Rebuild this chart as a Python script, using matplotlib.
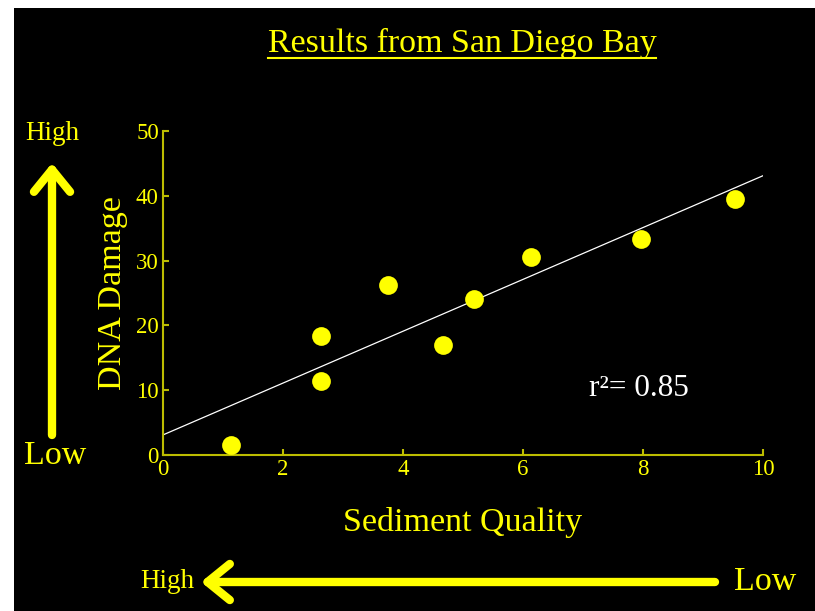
import numpy as np
import matplotlib
matplotlib.use('Agg')
import matplotlib.pyplot as plt
from matplotlib.patches import Rectangle, FancyArrowPatch
from matplotlib.lines import Line2D

plt.rcParams['font.family'] = ['Liberation Serif', 'DejaVu Serif']

# data
sediment = [1.13, 2.64, 2.64, 3.75, 4.66, 5.18, 6.13, 7.96, 9.54]
dna_damage = [1.6, 18.4, 11.4, 26.2, 16.9, 24.1, 30.6, 33.3, 39.5]
fit_intercept = 3.1
fit_slope = 4.0
r_squared = 0.85
x_ticks = [0, 2, 4, 6, 8, 10]
y_ticks = [0, 10, 20, 30, 40, 50]

yellow = '#ffff00'
olive = '#bcbc00'

fig = plt.figure(figsize=(8.15, 6.11), dpi=100, facecolor='white')
# black slide background with thin white margin at left/top
fig.add_artist(Rectangle((14 / 815, 0), 1, 1 - 8 / 611, transform=fig.transFigure,
                         facecolor='black', edgecolor='none', zorder=-10))

ax = fig.add_axes([163 / 815, 1 - 455 / 611, 600 / 815, 324 / 611])
ax.set_facecolor('none')
ax.set_xlim(0, 10)
ax.set_ylim(0, 50)
ax.set_xticks(x_ticks)
ax.set_yticks(y_ticks)
for s in ['top', 'right']:
    ax.spines[s].set_visible(False)
for s in ['left', 'bottom']:
    ax.spines[s].set_color(olive)
    ax.spines[s].set_linewidth(1.5)
ax.tick_params(direction='in', length=4.5, width=1.5, color=olive,
               labelcolor=yellow, labelsize=16.5, pad=3)

xs = np.array([0, 10])
ax.plot(xs, fit_intercept + fit_slope * xs, color='white', lw=0.9, zorder=2)
ax.plot(sediment, dna_damage, 'o', color=yellow, markersize=13.5, mec='none', zorder=3,
        clip_on=False)

ax.set_xlabel('Sediment Quality', color=yellow, fontsize=24.5, labelpad=19)
ax.set_ylabel('DNA Damage', color=yellow, fontsize=24.5, labelpad=6)
ax.text(7.1, 10.3, f'r²= {r_squared:.2f}', color='white',
        fontsize=22.5, va='center', ha='left')

title = fig.text(462 / 815, 1 - 43 / 611, 'Results from San Diego Bay', color=yellow,
                 fontsize=24.5, ha='center', va='center')

fig.text(52 / 815, 1 - 133 / 611, 'High', color=yellow, fontsize=19.5, ha='center', va='center')
fig.text(55 / 815, 1 - 456 / 611, 'Low', color=yellow, fontsize=24.5, ha='center', va='center')
fig.text(167 / 815, 1 - 581 / 611, 'High', color=yellow, fontsize=19.5, ha='center', va='center')
fig.text(765 / 815, 1 - 582 / 611, 'Low', color=yellow, fontsize=24.5, ha='center', va='center')

arrow_kw = dict(arrowstyle='->,head_length=0.8,head_width=0.65', mutation_scale=20,
                color=yellow, lw=6, capstyle='round', joinstyle='round',
                shrinkA=0, shrinkB=0, transform=fig.transFigure)
fig.add_artist(FancyArrowPatch((52 / 815, 1 - 435 / 611), (52 / 815, 1 - 163 / 611), **arrow_kw))
fig.add_artist(FancyArrowPatch((715 / 815, 1 - 582 / 611), (201 / 815, 1 - 582 / 611), **arrow_kw))

# underline the title
fig.canvas.draw()
bb = title.get_window_extent().transformed(fig.transFigure.inverted())
fig.add_artist(Line2D([bb.x0, bb.x1], [bb.y0 + 0.001, bb.y0 + 0.001], color=yellow, lw=1.5,
                      transform=fig.transFigure))

fig.savefig('out.png', dpi=100, facecolor=fig.get_facecolor())
